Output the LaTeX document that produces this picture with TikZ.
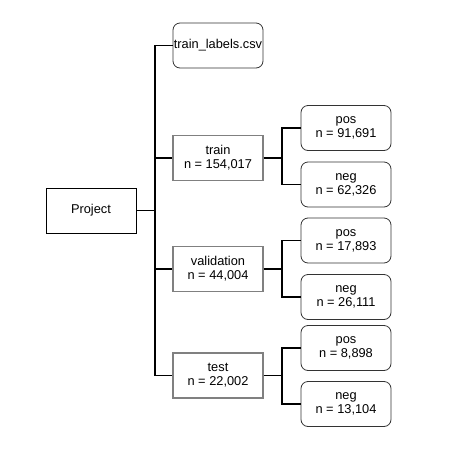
\documentclass[tikz,border=0pt]{standalone}
\usepackage{fontspec}
\setmainfont{Liberation Sans}
\usetikzlibrary{positioning}

\begin{document}
\begin{tikzpicture}[
                x=1pt,
                y=-1pt,
                draw=black,
                font=\fontsize{12.8}{14}\selectfont,
                box/.style={
                    draw,
                    line width=0.8pt,
                    minimum width=90pt,
                    minimum height=45pt,
                    inner sep=0pt,
                    align=center,
                },
                split/.style={box, draw=black!50, line width=1.2pt},
                leaf/.style={box, rounded corners=7pt, draw=black!80},
                link/.style={line width=1.4pt},
            ]
            \useasboundingbox (0,0) rectangle (450,459);

            \node[box] (project) at (91,210.5) {Project};
            \node[leaf] (labels) at (218,45.5) {train\_labels.csv};
            \node[split] (train) at (218,158) {train\\n = 154,017};
            \node[split] (validation) at (218,269) {validation\\n = 44,004};
            \node[split] (test) at (218,375.5) {test\\n = 22,002};

            \node[leaf] (trainpos) at (346,128) {pos\\n = 91,691};
            \node[leaf] (trainneg) at (346,184.5) {neg\\n = 62,326};
            \node[leaf] (valpos) at (346,240.5) {pos\\n = 17,893};
            \node[leaf] (valneg) at (346,297) {neg\\n = 26,111};
            \node[leaf] (testpos) at (346,348) {pos\\n = 8,898};
            \node[leaf] (testneg) at (346,404) {neg\\n = 13,104};

            \coordinate (bus) at (155,210.5);
            \coordinate (trainbus) at (282,158);
            \coordinate (valbus) at (282,269);
            \coordinate (testbus) at (282,375.5);

            % project level
            \draw[link] (project.east) -- (bus);
            \draw[link] (labels.west) -| (bus) |- (test.west);
            \draw[link] (bus |- train.west) -- (train.west);
            \draw[link] (bus |- validation.west) -- (validation.west);

            % splits
            \draw[link] (train.east) -- (trainbus);
            \draw[link] (trainpos.west) -| (trainbus) |- (trainneg.west);
            \draw[link] (validation.east) -- (valbus);
            \draw[link] (valpos.west) -| (valbus) |- (valneg.west);
            \draw[link] (test.east) -- (testbus);
            \draw[link] (testpos.west) -| (testbus) |- (testneg.west);
        \end{tikzpicture}
\end{document}
